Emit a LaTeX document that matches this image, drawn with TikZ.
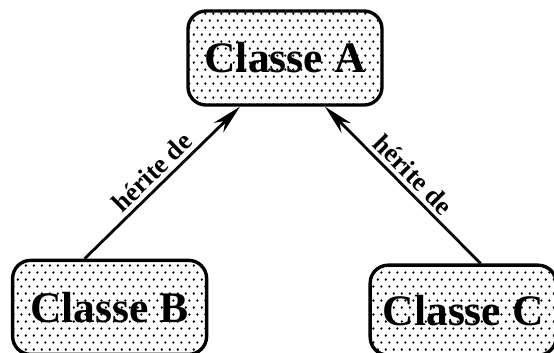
\documentclass[tikz,border=0pt]{standalone}
\usepackage{fontspec}
\setmainfont{Liberation Serif}
\usetikzlibrary{positioning, arrows.meta, patterns.meta}

% Punktraster fuer die Klassenkaesten
\tikzdeclarepattern{
  name=punkte,
  type=colored,
  bounding box={(0,0) and (2mm,3.6mm)},
  tile size={(2mm,3.6mm)},
  code={
    \fill[black] (0.5mm,0.9mm) circle (0.34mm);
    \fill[black] (1.5mm,2.7mm) circle (0.34mm);
  }
}

\begin{document}
\begin{tikzpicture}[
        box/.style={draw, line width=2.4pt, rounded corners=0.45cm, pattern=punkte, inner sep=0pt,
            minimum width=4.85cm, minimum height=2.35cm, font=\fontsize{31}{36}\selectfont\bfseries},
        arrow/.style={draw, line width=2pt, -{Stealth[length=0.75cm, width=0.34cm]}},
        erbt/.style={above, sloped, inner sep=3pt, font=\fontsize{19}{21}\selectfont\bfseries}
    ]
    \useasboundingbox (0,0) rectangle (13.85,8.8);

    % Klassen
    \node (classeA) [box] at (7.125,7.35) {Classe A};
    \node (classeB) [box, below left=3.8cm and -0.55cm of classeA] {Classe B};
    \node (classeC) [box, minimum width=4.65cm, minimum height=2.25cm, below right=3.92cm and -0.38cm of classeA] {Classe C};

    % Vererbung
    \draw[arrow] ([xshift=-0.625cm]classeB.north) -- node[erbt] {hérite de} ([xshift=-1.125cm]classeA.south);
    \draw[arrow] ([xshift=0.435cm]classeC.north) -- node[erbt] {hérite de} ([xshift=1cm]classeA.south);

\end{tikzpicture}
\end{document}
